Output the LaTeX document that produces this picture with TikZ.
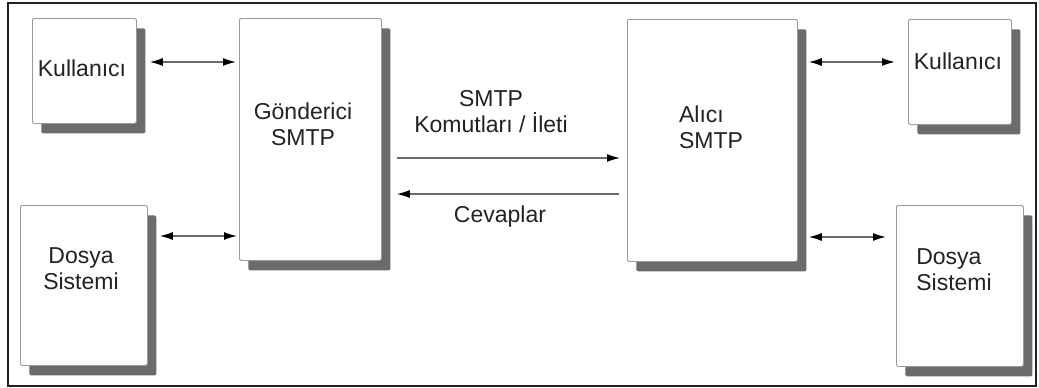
\documentclass[tikz,border=0pt]{standalone}
\usepackage{fontspec}
\setmainfont{Liberation Sans}
\usetikzlibrary{arrows.meta,shadows}
\definecolor{edgegray}{HTML}{9A9A9A}
\definecolor{shadegray}{HTML}{6B6B6B}
\definecolor{shaftgray}{HTML}{6A6A6A}
\definecolor{inkdark}{HTML}{222222}
\begin{document}
\begin{tikzpicture}[x=1pt,y=-1pt,
  box/.style={draw=edgegray, fill=white, line width=0.8pt, rounded corners=1.5pt,
    inner sep=0pt, anchor=north west,
    drop shadow={shadow xshift=9pt, shadow yshift=-10pt, fill=shadegray, opacity=1}},
  lbl/.style={inner sep=0pt, text=inkdark, font=\fontsize{23}{26}\selectfont},
  tip/.style={Latex[length=13pt,width=8pt,color=black]},
  arr/.style={draw=shaftgray, line width=1.3pt, -{Latex[length=13pt,width=8pt,color=black]}},
  biarr/.style={draw=shaftgray, line width=1.3pt,
    {Latex[length=13pt,width=8pt,color=black]}-{Latex[length=13pt,width=8pt,color=black]}}]
\useasboundingbox (0,0) rectangle (1039,388);
\fill[white] (0,0) rectangle (1039,388);
% outer frame
\draw[inkdark, line width=1.5pt] (8,3) rectangle (1036,386);

% boxes
\node[box, minimum width=104pt, minimum height=105pt] (kulL) at (32,18) {};
\node[box, minimum width=127pt, minimum height=160pt] (dosL) at (20,205) {};
\node[box, minimum width=142pt, minimum height=242pt] (gon) at (239,18) {};
\node[box, minimum width=170pt, minimum height=242pt] (alc) at (627,19) {};
\node[box, minimum width=103pt, minimum height=105pt] (kulR) at (908,19) {};
\node[box, minimum width=127pt, minimum height=161pt] (dosR) at (896,205) {};

% box texts
\node[lbl] (tkulL) at (82,68) {Kullanıcı};
\node[lbl, align=center] (tdosL) at (81,269) {Dosya\\Sistemi};
\node[lbl, align=center] (tgon) at (303,124) {Gönderici\\SMTP};
\node[lbl, align=left] (talc) at (711,127) {Alıcı\\SMTP};
\node[lbl] (tkulR) at (958,61) {Kullanıcı};
\node[lbl, align=left] (tdosR) at (954,270) {Dosya\\Sistemi};

% message labels
\node[lbl, align=center] (tcmd) at (491,112) {SMTP\\Komutları / İleti};
\node[lbl] (tans) at (500,217) {Cevaplar};

% connectors
\draw[biarr, shorten <=13pt, shorten >=3pt] (kulL.east |- 0,62) -- (gon.west |- 0,62);
\draw[biarr, shorten <=12pt, shorten >=2pt] (dosL.east |- 0,236) -- (gon.west |- 0,236);
\draw[arr, shorten <=15pt, shorten >=7pt] (gon.east |- 0,158) -- (alc.west |- 0,158);
\draw[arr, shorten <=8pt, shorten >=15pt] (alc.west |- 0,194) -- (gon.east |- 0,194);
\draw[biarr, shorten <=11pt, shorten >=13pt] (alc.east |- 0,62) -- (kulR.west |- 0,62);
\draw[biarr, shorten <=11pt, shorten >=10pt] (alc.east |- 0,237) -- (dosR.west |- 0,237);
\end{tikzpicture}
\end{document}
